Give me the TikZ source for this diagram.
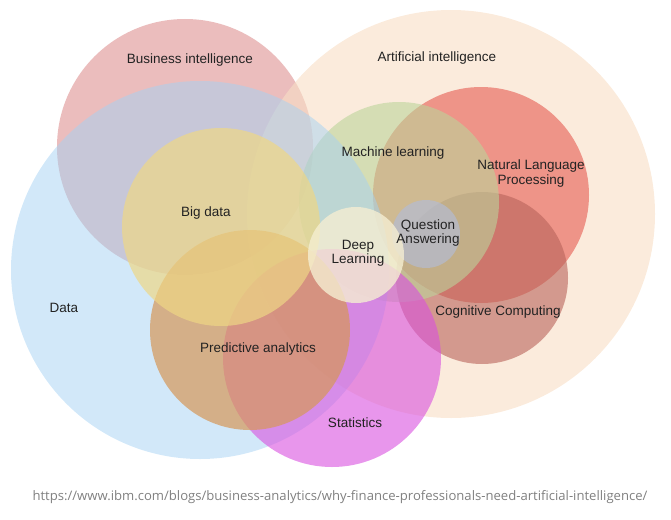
\documentclass[tikz,border=0pt]{standalone}
\usepackage{fontspec}
\setmainfont{Liberation Sans}
\newfontfamily\urlfont{Open Sans}
\usetikzlibrary{positioning}

\definecolor{bicol}{RGB}{221,145,145}
\definecolor{aicol}{RGB}{248,222,197}
\definecolor{nlpcol}{RGB}{230,90,80}
\definecolor{cogcol}{RGB}{185,100,90}
\definecolor{mlcol}{RGB}{188,212,155}
\definecolor{datacol}{RGB}{165,210,243}
\definecolor{statcol}{RGB}{217,80,223}
\definecolor{predcol}{RGB}{214,151,88}
\definecolor{bigcol}{RGB}{238,215,134}
\definecolor{qacol}{RGB}{178,188,214}
\definecolor{dlcol}{RGB}{245,238,210}
\definecolor{lbltext}{RGB}{34,34,34}

\tikzset{
    venn/.style 2 args={circle, draw=none, inner sep=0pt, minimum size=#1, fill=#2, fill opacity=0.6},
    lbl/.style={text=lbltext, align=center, inner sep=0pt, font=\fontsize{13.5}{15}\selectfont}
}

\begin{document}
\begin{tikzpicture}[x=1pt, y=-1pt]
    \useasboundingbox (0,0) rectangle (671,519);

    % circles, back to front
    \node[venn={256pt}{bicol}] (bi) at (185,147) {};
    \node[venn={408pt}{aicol}] (ai) at (451,214) {};
    \node[venn={216pt}{nlpcol}] (nlp) at (481,195) {};
    \node[venn={172pt}{cogcol}] (cog) at (482,278) {};
    \node[venn={200pt}{mlcol}] (ml) at (399,202) {};
    \node[venn={378pt}{datacol}, fill opacity=0.5] (data) at (200,270) {};
    \node[venn={218pt}{statcol}] (stat) at (332,358) {};
    \node[venn={200pt}{predcol}, fill opacity=0.7] (pred) at (250,330) {};
    \node[venn={198pt}{bigcol}, fill opacity=0.7] (big) at (221,227) {};
    \node[venn={68pt}{qacol}, fill opacity=0.65] (qa) at (426,234) {};
    \node[venn={96pt}{dlcol}, fill opacity=0.8] (dl) at (356,255) {};

    % labels
    \node[lbl] (bilbl) at (190,60) {Business intelligence};
    \node[lbl] (ailbl) at (437,58) {Artificial intelligence};
    \node[lbl] (biglbl) at (206,213) {Big data};
    \node[lbl] (mllbl) at (393,153) {Machine learning};
    \node[lbl] (nlplbl) at (531,174) {Natural Language\\Processing};
    \node[lbl, font=\fontsize{13.5}{13.5}\selectfont] (qalbl) at (428,233) {Question\\Answering};
    \node[lbl, font=\fontsize{13.5}{14}\selectfont] (dllbl) at (358,253) {Deep\\Learning};
    \node[lbl] (datalbl) at (64,308) {Data};
    \node[lbl] (predlbl) at (258,349) {Predictive analytics};
    \node[lbl] (coglbl) at (498,312) {Cognitive Computing};
    \node[lbl] (statlbl) at (355,423) {Statistics};

    \node[text=black!50, inner sep=0pt, font=\urlfont\fontsize{13.1}{15}\selectfont] (src) at (340,497)
        {https://www.ibm.com/blogs/business-analytics/why-finance-professionals-need-artificial-intelligence/};
\end{tikzpicture}
\end{document}
